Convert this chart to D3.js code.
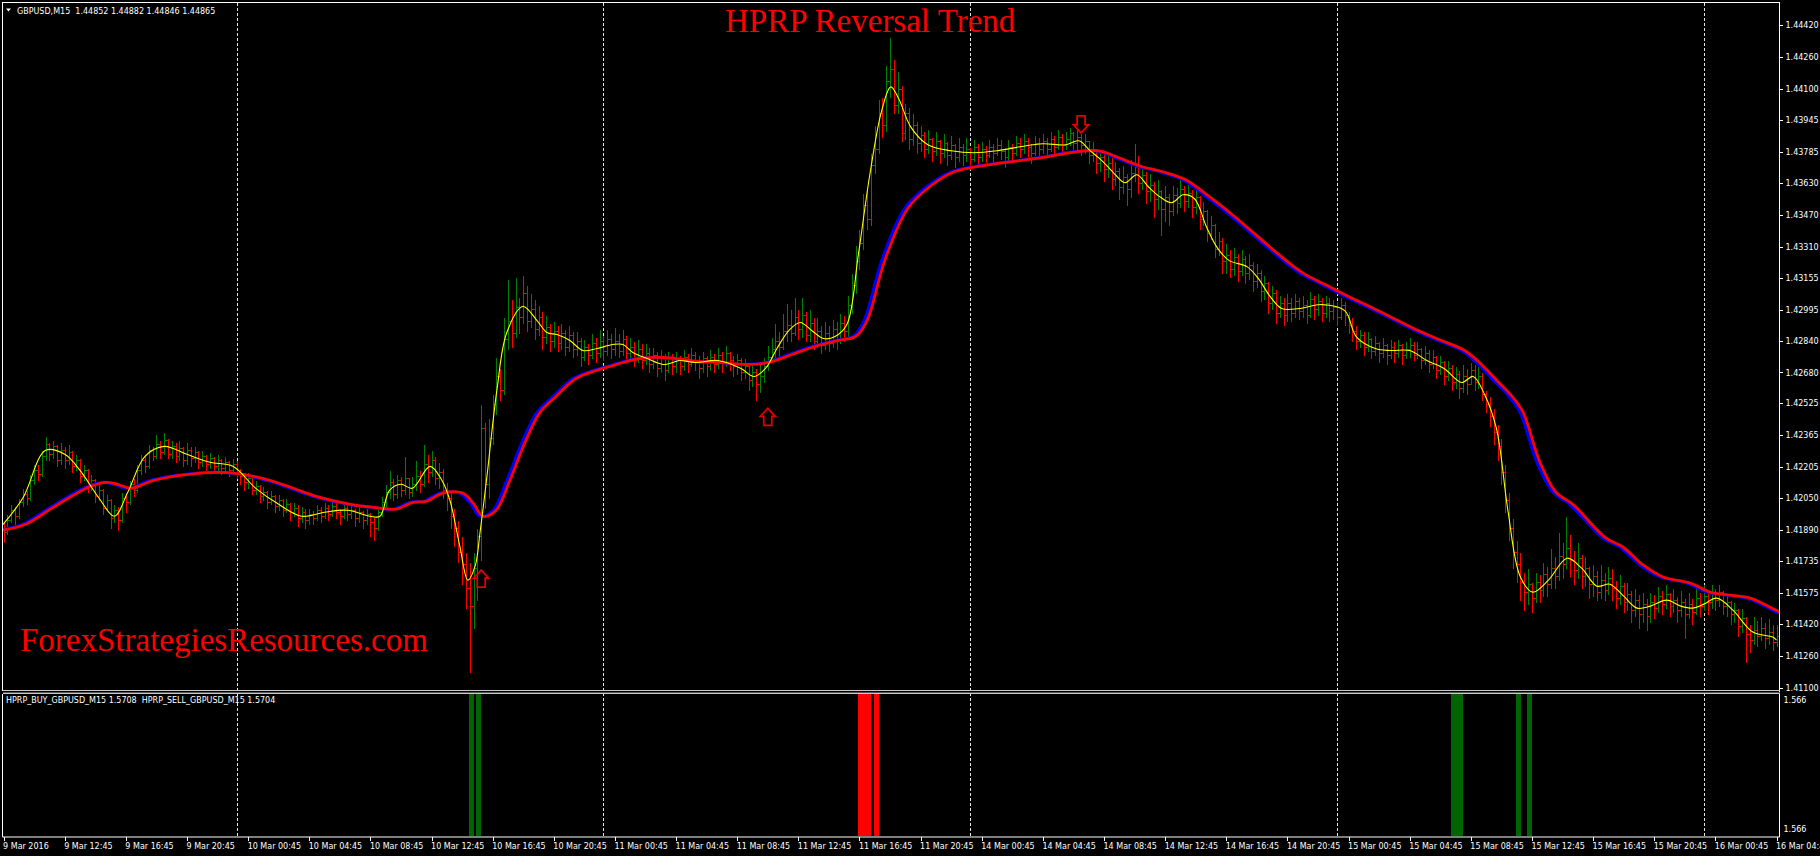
<!DOCTYPE html>
<html><head><meta charset="utf-8">
<script src="https://cdn.jsdelivr.net/npm/d3@7"></script>
<style>
html,body{margin:0;padding:0;background:#000;overflow:hidden}
svg{display:block}
text{white-space:pre}
</style></head><body>
<svg id="chart" width="1820" height="856"></svg>
<script>
// ---------------- DATA ----------------
const symbolHeader = "GBPUSD,M15  1.44852 1.44882 1.44846 1.44865";
const indicatorHeader = "HPRP_BUY_GBPUSD_M15 1.5708  HPRP_SELL_GBPUSD_M15 1.5704";
const titleText = "HPRP Reversal Trend";
const watermarkText = "ForexStrategiesResources.com";

const priceTicks = [1.44420,1.44260,1.44100,1.43945,1.43785,1.43630,1.43470,1.43310,1.43155,1.42995,1.42840,1.42680,1.42525,1.42365,1.42205,1.42050,1.41890,1.41735,1.41575,1.41420,1.41260,1.41100];
const indicatorTickLabels = ["1.566","1.566"];
const timeLabels = ["9 Mar 2016","9 Mar 12:45","9 Mar 16:45","9 Mar 20:45","10 Mar 00:45","10 Mar 04:45","10 Mar 08:45","10 Mar 12:45","10 Mar 16:45","10 Mar 20:45","11 Mar 00:45","11 Mar 04:45","11 Mar 08:45","11 Mar 12:45","11 Mar 16:45","11 Mar 20:45","14 Mar 00:45","14 Mar 04:45","14 Mar 08:45","14 Mar 12:45","14 Mar 16:45","14 Mar 20:45","15 Mar 00:45","15 Mar 04:45","15 Mar 08:45","15 Mar 12:45","15 Mar 16:45","15 Mar 20:45","16 Mar 00:45","16 Mar 04:45"];
const timeTickBars = [0,16,32,48,64,80,96,112,128,144,160,176,192,208,224,240,256,272,288,304,320,336,352,368,384,400,416,432,448,464];
const daySeparatorBars = [61,157,253,349,445];

// M15 bars, prices in pips above 1.4000 (e.g. 190 = 1.4190); open = previous close
const firstOpenPips = 190;
const closePips = [
188,194,199,196,203,207,205,214,219,217,226,232,227,231,224,229,
224,228,221,224,216,219,211,214,206,209,200,204,195,199,194,205,
203,212,209,219,224,221,229,226,232,228,234,227,231,226,230,224,
229,225,228,223,226,222,225,221,224,220,223,219,222,218,216,213,
215,209,211,206,208,203,206,201,204,199,202,198,200,195,198,194,
197,195,199,196,200,197,201,198,196,200,197,199,195,198,194,197,
193,190,198,203,208,213,207,214,209,215,208,212,216,212,222,218,
224,215,218,209,205,196,190,178,172,160,151,170,186,240,212,235,
252,266,259,285,294,288,301,296,308,294,300,290,296,286,291,284,
289,283,288,281,287,280,284,276,281,277,283,278,284,279,285,280,
284,279,285,278,281,275,280,274,278,272,277,270,275,269,276,271,
275,271,276,272,277,273,270,275,271,276,272,277,273,278,274,271,
274,268,271,264,268,262,266,271,276,280,284,281,289,292,288,296,
290,297,287,293,284,289,282,288,283,290,285,293,289,302,312,324,
333,352,345,372,380,398,392,414,420,402,410,388,398,385,392,383,
387,380,385,379,384,378,383,377,382,376,381,377,380,375,381,376,
380,377,381,378,382,379,376,381,378,383,380,384,381,378,383,380,
384,380,385,381,386,382,385,388,383,386,382,384,377,380,373,376,
370,373,365,369,361,366,360,368,371,363,367,359,362,355,359,350,
356,349,357,353,360,354,358,351,356,345,349,338,342,330,334,324,
327,320,326,319,325,318,322,314,318,309,313,303,308,298,303,297,
303,298,304,299,302,297,305,300,304,298,303,299,301,296,302,297,
292,289,284,287,281,285,279,283,278,282,277,281,278,282,277,280,
282,277,280,274,278,272,276,269,273,266,270,263,267,260,266,262,
269,263,266,257,252,246,238,231,218,204,190,178,172,163,158,162,
155,163,159,167,162,170,166,176,172,180,174,169,175,166,170,162,
166,158,164,159,165,160,155,161,153,157,149,154,147,152,146,153,
150,156,152,157,151,154,149,153,147,152,148,155,151,156,153,157,
154,158,151,153,147,149,141,145,137,134,139,136,140,135,138,133,136];
const highPips = [
193,197,202,201,205,210,209,217,222,222,229,236,233,234,232,233,
231,232,229,227,225,222,220,217,215,212,210,207,205,202,201,208,
208,214,215,222,227,227,232,231,237,234,238,235,234,233,234,231,
233,231,231,229,229,227,228,226,227,225,226,224,225,224,220,218,
218,216,214,212,211,209,209,207,207,205,205,203,203,202,201,200,
200,199,202,201,203,202,204,203,200,203,202,202,200,201,199,200,
198,196,201,206,212,219,215,217,216,226,215,216,224,219,232,227,
229,226,223,220,213,209,200,194,186,178,173,178,190,252,243,245,
257,276,270,296,315,305,316,306,317,312,308,305,302,299,297,293,
294,292,293,290,292,289,289,286,285,283,288,286,290,287,290,288,
291,288,290,287,286,284,285,283,283,281,281,279,280,278,279,278,
279,277,280,278,281,279,277,279,277,280,278,281,279,282,279,277,
278,276,275,272,272,270,272,276,282,286,293,289,298,303,300,306,
300,306,299,300,296,296,292,294,292,295,294,298,297,307,318,332,
340,358,360,378,392,405,406,422,436,425,419,412,403,401,398,394,
392,389,390,386,389,385,388,384,387,383,386,383,386,381,385,383,
384,382,385,383,386,385,381,385,383,387,386,388,386,383,387,386,
388,386,389,387,390,388,389,391,389,390,388,388,384,384,380,380,
378,379,376,374,371,372,368,375,383,377,372,369,368,364,365,360,
362,358,362,361,366,362,363,360,362,357,354,350,347,343,339,336,
333,330,331,328,330,327,328,324,323,320,317,314,312,310,307,306,
308,306,308,306,307,305,309,307,308,306,307,306,305,304,306,304,
299,296,292,290,289,289,286,287,284,286,283,285,284,285,283,284,
286,284,284,281,282,280,280,277,277,274,274,272,271,269,272,270,
273,272,271,268,259,256,250,242,235,222,208,195,184,178,168,170,
163,168,167,173,171,180,176,188,183,196,187,179,183,177,176,171,
172,169,172,168,171,170,164,167,163,163,159,160,157,158,155,158,
157,161,159,162,158,160,156,159,155,158,155,161,158,162,159,162,
160,162,159,157,154,153,150,150,146,142,146,144,146,143,145,142,142];
const lowPips = [
183,187,193,192,195,201,202,204,212,214,216,224,224,225,221,222,
220,222,218,219,213,214,208,209,203,204,197,199,190,193,189,193,
198,202,206,208,217,218,220,224,225,225,227,225,225,223,224,221,
222,221,223,220,221,219,220,218,219,217,218,216,217,215,212,209,
210,207,207,203,204,200,202,198,199,196,198,194,196,191,193,190,
192,192,194,193,195,194,196,195,192,195,194,195,191,193,190,192,
186,184,189,196,201,205,204,205,206,207,205,206,209,208,211,213,
216,212,210,205,199,190,181,173,162,150,118,140,154,174,200,205,
232,247,254,257,280,281,286,288,293,289,291,285,287,280,283,279,
281,279,280,277,279,276,277,271,274,272,275,273,276,274,277,275,
277,276,277,274,275,271,273,270,272,268,270,266,268,264,268,267,
268,267,269,268,271,269,265,268,266,269,268,270,268,271,269,266,
267,264,265,259,261,254,258,263,269,273,276,275,280,284,284,287,
285,286,284,284,280,281,278,280,279,281,280,283,284,286,298,308,
320,330,340,342,368,378,386,389,406,398,398,384,385,380,382,378,
379,376,378,374,377,373,376,372,375,371,374,372,374,370,374,371,
374,373,376,374,377,375,371,374,374,377,376,378,376,373,377,376,
378,376,379,377,380,377,380,382,378,380,377,378,373,374,368,369,
364,366,360,362,355,358,352,356,364,358,360,353,354,346,350,337,
344,342,347,348,351,349,351,346,348,340,342,334,335,326,327,318,
318,316,317,314,317,313,315,309,311,304,305,298,300,293,296,292,
294,294,296,295,296,293,296,295,297,294,296,294,295,292,295,292,
288,284,280,281,277,279,275,277,273,276,272,275,273,276,272,275,
276,274,275,270,272,268,270,265,267,262,264,259,260,255,258,257,
262,259,260,254,248,241,232,224,212,198,184,170,163,154,149,152,
148,153,153,156,156,160,160,164,165,170,166,162,165,160,161,155,
156,154,155,154,157,154,150,152,148,149,143,146,140,143,139,143,
145,148,147,150,146,148,143,146,135,145,142,147,146,149,147,150,
149,151,147,146,142,143,136,138,123,128,132,131,134,130,132,129,131];

// yellow fast line [bar, pips]
const fastLine = [[-1,190],[5,205],[11,229],[16,227],[20,219],[25,205],[29,196],[32.5,208],[37,226],[42,231],[48,227],[54,223],[60,221],[66,210],[72,202],[78,196],[84,198],[90,199],[96,196],[98.5,196],[101,209],[104,212],[107,210],[111.6,221],[114.7,214],[116.8,204],[119.4,181],[121.5,164],[123.4,171],[124.7,188],[126.5,216],[129.1,259],[131.7,288],[135.9,301],[139.6,294],[142.2,288],[144.8,287],[148.2,284],[151.6,279],[155.3,280],[159.5,282],[162.1,282],[164.7,278],[168.4,275],[172.6,272],[175.2,273],[177,274],[181,273],[187,274],[193,270],[196.4,266],[199.4,270],[202.4,280],[205.5,289],[208.5,293],[211.5,289],[214.6,285],[217.6,286],[220.7,292],[223.7,327],[226.7,367],[229.8,399],[232.2,411],[234.3,405],[237.4,391],[241.9,382],[248,379],[254,378],[260,379],[266,381],[272,382.5],[278,382],[281.4,384],[284.4,379],[287.5,374],[290.5,368],[293.5,363],[296.6,367],[299.6,361],[302.6,356],[305.7,353],[308.7,357],[311.7,355],[314.8,341],[317.8,330],[320.8,324],[325.4,321],[328.4,315],[331.5,306],[334.5,300],[339,300],[345,302],[351,299],[354,286],[359,280],[363,279],[368,279],[372.5,274],[377,270],[381.6,263],[384.6,266],[387.6,257],[390.7,240],[393.7,199],[396.9,166],[400.2,158],[404.3,164],[409.2,175],[413,170],[417,161],[420.4,162],[424,156],[427.5,150],[431,151],[435.3,154],[439,151],[442.1,150],[445,152],[448.4,155],[452.6,149],[457.8,138],[463,135.5],[464,134]];

// blue / red slow lines [bar, pips]; red lags blue by redLagBars
const slowLine = [[-1,189],[5,192],[11,199],[17,206],[22,211],[26,213],[29,212],[32.5,210],[38.5,214],[47.6,217],[55,218],[60,217.5],[68.9,214],[75,210],[81,206],[90,202],[96,200.5],[101.9,199.6],[106.4,203],[109.8,203.5],[114.2,207.6],[119.4,207.6],[122.1,202.6],[124.7,196],[128.1,199],[131.7,214],[135.9,234],[139.6,248],[143.8,256],[149,265],[154.3,269],[157.9,271],[161.3,273],[165.8,275],[171.8,275.5],[177,274.5],[181,273.5],[187,273],[193.4,272],[199.4,273],[205.5,277],[211.5,281],[217.6,284],[222.2,286],[225.2,294],[229.8,324],[235.8,350],[241.9,361.5],[248,368.5],[257,372],[266,374.3],[272.3,376],[279.9,378.5],[285.9,379],[290.5,376],[296.6,371.4],[302.6,368.5],[308.7,364.4],[314.8,356],[320.8,347],[326.9,337],[333,327],[339.1,318],[345.1,312],[351.2,306],[357.3,300.5],[363.4,294.7],[369.4,289],[375.5,284],[381.6,279],[386,272],[390,264],[394,256],[396.9,248],[401.3,223],[405.5,208],[409.2,203],[410.7,200.6],[418.6,185],[423,180.6],[428.3,171.6],[433.5,165.6],[440.6,162.6],[445.8,158],[451,156.5],[456.3,155],[463,149],[464.5,147.5]];
const redLagBars = 0.8;

// reversal arrows
const arrowBars = [125, 200, 282];
const arrowTipPips = [169, 250, 388];
const arrowDirs = ["up", "up", "down"];

// indicator histogram
const buySignalBars = [122, 124, 379, 380, 381, 396, 399];
const sellSignalBars = [224, 225, 226, 228];
const signalValue = 1.566;

// ---------------- DRAW ----------------
const W = 1820, H = 856;
const plotL = 2.5, plotR = 1779.5, plotT = 2.5, mainB = 690.5, indT = 693.5, axisB = 836.5;
const svg = d3.select("#chart");
const uiFont = "'DejaVu Sans', Tahoma, sans-serif";

svg.append("rect").attr("width", W).attr("height", H).attr("fill", "#000");
const defs = svg.append("defs");
defs.append("clipPath").attr("id", "clipMain").append("rect")
  .attr("x", plotL).attr("y", plotT).attr("width", plotR - plotL).attr("height", mainB - plotT - 1);
defs.append("clipPath").attr("id", "clipInd").append("rect")
  .attr("x", plotL).attr("y", indT + 0.5).attr("width", plotR - plotL).attr("height", axisB - indT - 1);

const x = d3.scaleLinear().domain([0, 464]).range([3.6, 1776.5]);
const y = d3.scaleLinear().domain([1.41100, 1.44420]).range([688, 25]);
const pip = v => 1.4 + v / 10000;
const yInd = d3.scaleLinear().domain([0, signalValue]).range([836, 694]);

// day separators
svg.append("g").selectAll("line").data(daySeparatorBars).join("line")
  .attr("x1", d => Math.round(x(d)) + 0.5).attr("x2", d => Math.round(x(d)) + 0.5)
  .attr("y1", plotT).attr("y2", axisB)
  .attr("stroke", "#e6e6e6").attr("stroke-width", 1).attr("stroke-dasharray", "3,2")
  .attr("shape-rendering", "crispEdges");

// candles (OHLC bars)
const bars = closePips.map((c, i) => {
  const o = i === 0 ? firstOpenPips : closePips[i - 1];
  return { i, o, c, h: Math.max(highPips[i], o, c), l: Math.min(lowPips[i], o, c) };
});
const py = v => Math.round(y(pip(v))) + 0.5;
svg.append("g").attr("clip-path", "url(#clipMain)").attr("shape-rendering", "crispEdges")
  .selectAll("path").data(bars).join("path")
  .attr("d", d => {
    const cx = Math.round(x(d.i)) + 0.5;
    return `M${cx},${py(d.h)}V${py(d.l)}M${cx - 2},${py(d.o)}H${cx}M${cx},${py(d.c)}H${cx + 2}`;
  })
  .attr("fill", "none")
  .attr("stroke", d => d.c >= d.o ? "#008000" : "#ff0000")
  .attr("stroke-width", 1);

// lines
const gLines = svg.append("g").attr("clip-path", "url(#clipMain)");
const lineGen = lag => d3.line()
  .x(d => x(d[0] + lag)).y(d => y(pip(d[1])))
  .curve(d3.curveCatmullRom.alpha(0.5));
gLines.append("path").attr("d", lineGen(0)(slowLine))
  .attr("fill", "none").attr("stroke", "#0000ff").attr("stroke-width", 3);
gLines.append("path").attr("d", lineGen(redLagBars)(slowLine))
  .attr("fill", "none").attr("stroke", "#ff0000").attr("stroke-width", 2.8);
gLines.append("path").attr("d", lineGen(0)(fastLine))
  .attr("fill", "none").attr("stroke", "#ffff00").attr("stroke-width", 1.1);

// arrows
const arrowPath = (cx, ty, dir) => {
  const s = dir === "up" ? 1 : -1;
  const hw = 7.5, sw = 4, hh = 8, sh = 9;
  return `M${cx},${ty}L${cx + hw},${ty + s * hh}L${cx + sw},${ty + s * hh}L${cx + sw},${ty + s * (hh + sh)}` +
         `L${cx - sw},${ty + s * (hh + sh)}L${cx - sw},${ty + s * hh}L${cx - hw},${ty + s * hh}Z`;
};
svg.append("g").selectAll("path").data(arrowBars).join("path")
  .attr("d", (b, i) => arrowPath(x(b), y(pip(arrowTipPips[i])), arrowDirs[i]))
  .attr("fill", "none").attr("stroke", "#e00000").attr("stroke-width", 1.8)
  .attr("stroke-linejoin", "miter");

// histogram
const gHist = svg.append("g").attr("clip-path", "url(#clipInd)").attr("shape-rendering", "crispEdges");
gHist.selectAll("rect.buy").data(buySignalBars).join("rect").attr("class", "buy")
  .attr("x", d => Math.round(x(d)) - 1.5).attr("width", 5)
  .attr("y", yInd(signalValue)).attr("height", yInd(0) - yInd(signalValue))
  .attr("fill", "#006400");
gHist.selectAll("rect.sell").data(sellSignalBars).join("rect").attr("class", "sell")
  .attr("x", d => Math.round(x(d)) - 1.5).attr("width", 5)
  .attr("y", yInd(signalValue)).attr("height", yInd(0) - yInd(signalValue))
  .attr("fill", "#ff0000");

// frame
const frame = svg.append("g").attr("stroke", "#ffffff").attr("stroke-width", 1)
  .attr("shape-rendering", "crispEdges").attr("fill", "none");
frame.append("path").attr("d", `M${plotL},${mainB}V${plotT}H${plotR}V${axisB}`);
frame.append("path").attr("d", `M${plotL},${indT}V${axisB}`);
svg.append("line").attr("x1", plotL).attr("x2", plotR).attr("y1", mainB).attr("y2", mainB)
  .attr("stroke", "#c8c8c8").attr("shape-rendering", "crispEdges");
svg.append("line").attr("x1", plotL).attr("x2", plotR).attr("y1", indT).attr("y2", indT)
  .attr("stroke", "#c8c8c8").attr("shape-rendering", "crispEdges");
svg.append("line").attr("x1", plotL).attr("x2", plotR).attr("y1", mainB + 1.5).attr("y2", mainB + 1.5)
  .attr("stroke", "#555").attr("shape-rendering", "crispEdges");

// price axis
const yAxis = d3.axisRight(y).tickValues(priceTicks).tickFormat(d3.format(".5f")).tickSize(3).tickPadding(3);
const gy = svg.append("g").attr("transform", `translate(${plotR},0)`).call(yAxis);
gy.select(".domain").remove();
gy.selectAll(".tick line").attr("stroke", "#fff").attr("shape-rendering", "crispEdges");
gy.selectAll(".tick text").attr("fill", "#fff").attr("font-family", uiFont).attr("font-size", 8);

// indicator labels
svg.append("g").selectAll("text").data(indicatorTickLabels).join("text")
  .attr("x", plotR + 4).attr("y", (d, i) => i === 0 ? yInd(signalValue) + 9 : yInd(0) - 4)
  .attr("fill", "#fff").attr("font-family", uiFont).attr("font-size", 8).text(d => d);

// time axis
const xAxis = d3.axisBottom(x).tickValues(timeTickBars).tickFormat((d, i) => timeLabels[i]).tickSize(4).tickPadding(3);
const gx = svg.append("g").attr("transform", `translate(0,${axisB})`).call(xAxis);
gx.select(".domain").attr("stroke", "#fff").attr("d", `M${plotL},0.5H${plotR}`);
gx.selectAll(".tick line").attr("stroke", "#fff").attr("shape-rendering", "crispEdges");
gx.selectAll(".tick text").attr("fill", "#fff").attr("font-family", uiFont).attr("font-size", 8)
  .attr("text-anchor", "start").attr("x", -1);

// headers
svg.append("path").attr("d", "M6,8.5L11,8.5L8.5,11.5Z").attr("fill", "#fff");
svg.append("text").attr("x", 17).attr("y", 14).attr("fill", "#fff")
  .attr("font-family", uiFont).attr("font-size", 8).text(symbolHeader);
svg.append("text").attr("x", 6).attr("y", 703).attr("fill", "#fff")
  .attr("font-family", uiFont).attr("font-size", 8).text(indicatorHeader);

// title & watermark
svg.append("text").attr("x", 725).attr("y", 32).attr("fill", "#ff0000")
  .attr("font-family", "'Liberation Serif', 'Times New Roman', serif").attr("font-size", 33).text(titleText);
svg.append("text").attr("x", 20).attr("y", 651).attr("fill", "#ff0000")
  .attr("font-family", "'Liberation Serif', 'Times New Roman', serif").attr("font-size", 33).text(watermarkText);
</script>
</body></html>
